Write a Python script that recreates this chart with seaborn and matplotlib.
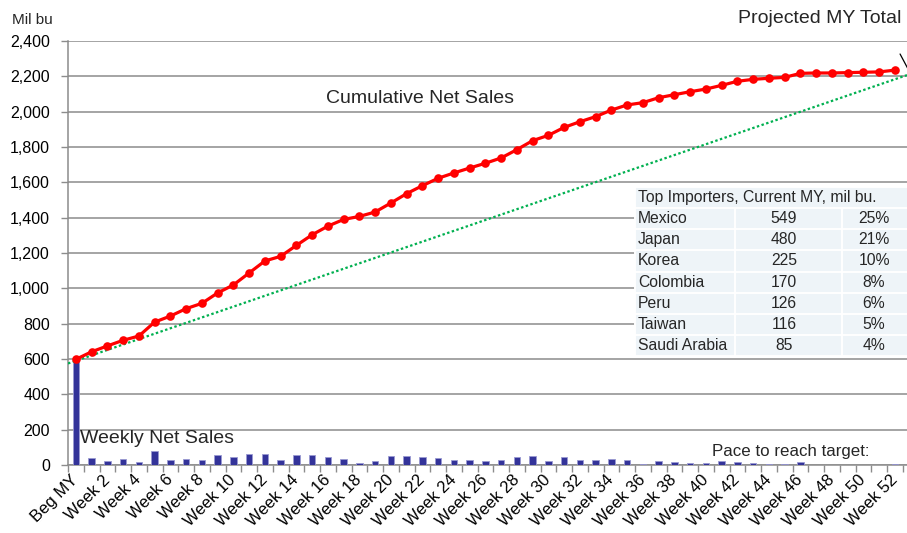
import numpy as np
import pandas as pd
import matplotlib
matplotlib.use("Agg")
import matplotlib.pyplot as plt
import seaborn as sns
from matplotlib.patches import Rectangle

# ---- data -------------------------------------------------------------
week_labels = ["Beg MY"] + [f"Week {n}" for n in range(1, 53)]

weekly_sales = [598, 41, 25, 34, 19, 79, 30, 36, 28, 57, 47, 62, 64, 26, 57, 57,
                47, 36, 13, 21, 51, 51, 43, 38, 30, 28, 25, 28, 45, 51, 25, 43,
                28, 28, 36, 28, 8, 25, 15, 13, 11, 21, 19, 9, 4, 6, 15, 2, 1, 2,
                2, 2, 6]

cumulative_sales = [598, 641, 674, 706, 730, 809, 843, 885, 915, 974, 1019, 1087,
                    1155, 1181, 1243, 1303, 1352, 1390, 1407, 1432, 1483, 1536,
                    1581, 1623, 1653, 1681, 1708, 1738, 1785, 1836, 1866, 1911,
                    1943, 1972, 2009, 2038, 2051, 2079, 2096, 2113, 2128, 2149,
                    2172, 2183, 2189, 2194, 2217, 2219, 2219, 2221, 2223, 2225,
                    2235]

pace_start = 590          # pace line value at beginning of marketing year
projected_total = 2214    # projected marketing-year total (end of pace line)
projected_pos = 53        # category slot after Week 52

importers = ["Mexico", "Japan", "Korea", "Colombia", "Peru", "Taiwan", "Saudi Arabia"]
import_volumes = [549, 480, 225, 170, 126, 116, 85]
import_shares = ["25%", "21%", "10%", "8%", "6%", "5%", "4%"]

y_ticks = list(range(0, 2401, 200))

# ---- style ------------------------------------------------------------
sns.set_theme(style="white")
plt.rcParams["font.family"] = ["Liberation Sans", "DejaVu Sans"]
GRID = "#8c8c8c"
W, H = 907, 533

fig = plt.figure(figsize=(W / 100, H / 100), dpi=100, facecolor="white")
ax = fig.add_axes([68 / W, 68 / H, 839 / W, 424 / H])

df = pd.DataFrame({"week": week_labels,
                   "pos": np.arange(len(week_labels)),
                   "weekly": weekly_sales,
                   "cumulative": cumulative_sales})

# weekly bars
sns.barplot(data=df, x="week", y="weekly", order=week_labels, color="#333399",
            saturation=1, width=0.4, edgecolor="#9a9ad2", linewidth=0.6,
            ax=ax, zorder=3)

# pace-to-target line
ax.axline((0, pace_start), (projected_pos, projected_total), color="#00b050",
          lw=1.6, ls=(0, (1.1, 1.1)), zorder=4)

# cumulative net sales
sns.lineplot(x=df["pos"], y=df["cumulative"], color="#ff0000", lw=2.3,
             marker="o", markersize=6.2, markeredgecolor="#ff0000",
             markeredgewidth=0, ax=ax, zorder=5, legend=False)

# ---- axes -------------------------------------------------------------
ax.set_xlim(-0.5, -0.5 + 839 / 15.75)
ax.set_ylim(0, 2400)
ax.set_xlabel("")
ax.set_ylabel("")

ax.set_yticks(y_ticks, [f"{v:,}" for v in y_ticks])
ax.tick_params(axis="y", left=True, length=5, width=1, color=GRID, pad=8,
               labelsize=11.5, labelcolor="black", direction="out")
ax.yaxis.grid(True, color=GRID, lw=1.1)
ax.xaxis.grid(False)
ax.set_axisbelow(True)

major = np.arange(0, len(week_labels), 2)
ax.set_xticks(major, [week_labels[i] for i in major], rotation=45, ha="right",
              va="center", rotation_mode="anchor", fontsize=12)
ax.set_xticks(np.arange(-0.5, len(week_labels), 1), minor=True)
ax.tick_params(axis="x", which="major", length=0, pad=9, labelcolor="black")
ax.tick_params(axis="x", which="minor", bottom=True, length=5, width=1,
               color=GRID, direction="out")

for side in ("top", "right"):
    ax.spines[side].set_visible(False)
for side in ("left", "bottom"):
    ax.spines[side].set_color(GRID)
    ax.spines[side].set_linewidth(1.1)

# ---- annotations ------------------------------------------------------
fig.text(11.7 / W, 1 - 24 / H, "Mil bu", fontsize=11, va="baseline", ha="left")
fig.text(901.7 / W, 1 - 23.3 / H, "Projected MY Total", fontsize=14,
         va="baseline", ha="right")
ax.annotate("", xy=(projected_pos, projected_total), xytext=(-7.6, 14.3),
            textcoords="offset points", annotation_clip=False,
            arrowprops=dict(arrowstyle="-", color="black", lw=0.9,
                            shrinkA=0, shrinkB=0))

ax.text((326 - 68) / 839, (465 - 103.3) / 424, "Cumulative Net Sales",
        transform=ax.transAxes, fontsize=14, va="baseline", ha="left")
ax.text((80 - 68) / 839, (465 - 442.7) / 424, "Weekly Net Sales",
        transform=ax.transAxes, fontsize=14, va="baseline", ha="left", zorder=6)
ax.text((712.3 - 68) / 839, (465 - 456) / 424, "Pace to reach target:",
        transform=ax.transAxes, fontsize=12.2, va="baseline", ha="left")

# ---- importer table ---------------------------------------------------
def fx(px):
    return (px - 68) / 839


def fy(py):
    return (465 - py) / 424


cols = [635, 735, 842, 910]
row_top = 186.7
row_h = 21.2
cell_bg = "#eef4f8"

rows = [("Top Importers, Current MY, mil bu.", None, None)] + [
    (name, str(vol), share)
    for name, vol, share in zip(importers, import_volumes, import_shares)]

for k, (name, vol, share) in enumerate(rows):
    top = row_top + k * row_h
    bot = top + row_h
    mid = (top + bot) / 2
    if vol is None:
        spans = [(cols[0], cols[-1])]
    else:
        spans = [(cols[0], cols[1]), (cols[1], cols[2]), (cols[2], cols[3])]
    for a, b in spans:
        ax.add_patch(Rectangle((fx(a), fy(bot)), fx(b) - fx(a), fy(top) - fy(bot),
                               transform=ax.transAxes, facecolor=cell_bg,
                               edgecolor="white", lw=1.4, zorder=7,
                               clip_on=False))
    ax.text(fx(638), fy(mid), name, transform=ax.transAxes, fontsize=11.3,
            ha="left", va="center", zorder=8)
    if vol is not None:
        ax.text(fx(784), fy(mid), vol, transform=ax.transAxes, fontsize=11.3,
                ha="center", va="center", zorder=8)
        ax.text(fx(874), fy(mid), share, transform=ax.transAxes, fontsize=11.3,
                ha="center", va="center", zorder=8)

fig.savefig("out.png", dpi=100, facecolor="white")
